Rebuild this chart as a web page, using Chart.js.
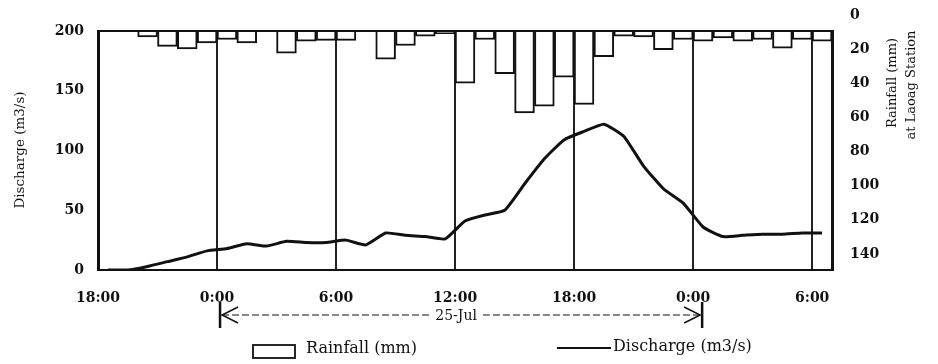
<!DOCTYPE html>
<html>
<head>
<meta charset="utf-8">
<script src="https://cdn.jsdelivr.net/npm/chart.js@4/dist/chart.umd.min.js"></script>
<style>
  body { margin: 0; background: #fff; }
  #wrap { width: 938px; height: 364px; }
</style>
</head>
<body>
<div id="wrap"><canvas id="rainChart" width="938" height="364"></canvas></div>
<script>
// hours counted from 18:00 on 24-Jul (bar centres)
const hours = [];
for (let i = 0; i < 37; i++) hours.push(i + 0.5);

const rainfallMm = [0, 0, 3.5, 9, 10.5, 7, 5, 7, 0, 13, 6, 5.5, 5.5, 0, 16.5, 8.5, 3, 1.5,
  30.5, 5, 25, 48, 44, 27, 43, 15, 3, 3.5, 11, 5, 6, 4, 6, 5, 10, 5, 6];

const dischargeM3s = [0, 0, 3, 7, 11, 16, 18, 22, 20, 24, 23, 23, 25, 21, 31, 29, 28, 26,
  41, 46, 50, 72, 93, 109, 116, 122, 112, 87, 68, 56, 36, 28, 29, 30, 30, 31, 31];

const tickHours = [0, 6, 12, 18, 24, 30, 36];
const tickLabels = ['18:00', '0:00', '6:00', '12:00', '18:00', '0:00', '6:00'];

const serif = '"DejaVu Serif", "Liberation Serif", serif';
const ink = '#111';

// titles, date span and legend drawn on top
const extras = {
  id: 'extras',
  afterDraw(chart) {
    const { ctx, chartArea: a, scales } = chart;
    ctx.save();
    ctx.strokeStyle = ink;
    ctx.fillStyle = ink;

    // top frame line
    ctx.lineWidth = 2;
    ctx.beginPath();
    ctx.moveTo(a.left, a.top);
    ctx.lineTo(a.right, a.top);
    ctx.stroke();

    // axis titles
    ctx.textAlign = 'center';
    ctx.textBaseline = 'middle';
    ctx.font = '13.5px ' + serif;
    const rot = (text, x, y) => {
      ctx.save();
      ctx.translate(x, y);
      ctx.rotate(-Math.PI / 2);
      ctx.fillText(text, 0, 0);
      ctx.restore();
    };
    rot('Discharge (m3/s)', 20, 150);
    ctx.font = '13px ' + serif;
    rot('Rainfall (mm)', 893, 83);
    rot('at Laoag Station', 912, 85);

    // 25-Jul span
    const x0 = scales.x.getPixelForValue(6) + 3;
    const x1 = scales.x.getPixelForValue(30) + 9;
    const ym = 315;
    ctx.lineWidth = 2.5;
    ctx.beginPath();
    ctx.moveTo(x0, ym - 13); ctx.lineTo(x0, ym + 13);
    ctx.moveTo(x1, ym - 13); ctx.lineTo(x1, ym + 13);
    ctx.stroke();
    ctx.lineWidth = 1.5;
    ctx.beginPath();
    ctx.moveTo(x0 + 18, ym - 8); ctx.lineTo(x0 + 2, ym); ctx.lineTo(x0 + 18, ym + 8);
    ctx.moveTo(x1 - 18, ym - 8); ctx.lineTo(x1 - 2, ym); ctx.lineTo(x1 - 18, ym + 8);
    ctx.stroke();
    ctx.font = '14px ' + serif;
    const label = '25-Jul';
    const mid = (x0 + x1) / 2 - 5;
    const half = ctx.measureText(label).width / 2;
    ctx.fillText(label, mid, ym + 1);
    ctx.lineWidth = 1;
    ctx.setLineDash([7, 3]);
    ctx.beginPath();
    ctx.moveTo(x0 + 2, ym); ctx.lineTo(mid - half - 6, ym);
    ctx.moveTo(mid + half + 6, ym); ctx.lineTo(x1 - 2, ym);
    ctx.stroke();
    ctx.setLineDash([]);

    // legend
    ctx.font = '16px ' + serif;
    ctx.textAlign = 'left';
    ctx.lineWidth = 1.8;
    ctx.strokeRect(253, 345, 42, 13);
    ctx.fillText('Rainfall (mm)', 306, 349);
    ctx.lineWidth = 2;
    ctx.beginPath();
    ctx.moveTo(557, 348); ctx.lineTo(611, 348);
    ctx.stroke();
    ctx.fillText('Discharge (m3/s)', 613, 347);
    ctx.restore();
  }
};

const tickFont = { family: serif, size: 14, weight: 'bold' };

new Chart(document.getElementById('rainChart').getContext('2d'), {
  type: 'bar',
  data: {
    datasets: [
      {
        type: 'line',
        label: 'Discharge (m3/s)',
        data: hours.map((h, i) => ({ x: h, y: dischargeM3s[i] })),
        yAxisID: 'y',
        borderColor: ink,
        borderWidth: 3,
        pointRadius: 0,
        tension: 0.15,
        order: 0
      },
      {
        type: 'bar',
        label: 'Rainfall (mm)',
        data: hours.map((h, i) => ({ x: h, y: rainfallMm[i] })),
        yAxisID: 'y2',
        backgroundColor: '#fff',
        borderColor: ink,
        borderWidth: 2,
        categoryPercentage: 1,
        barPercentage: 1,
        order: 1
      }
    ]
  },
  options: {
    responsive: false,
    animation: false,
    layout: { padding: { top: 31, left: 0, right: 0, bottom: 0 } },
    plugins: {
      legend: { display: false },
      tooltip: { enabled: false }
    },
    scales: {
      x: {
        type: 'linear',
        min: 0,
        max: 37,
        offset: false,
        afterBuildTicks: scale => { scale.ticks = tickHours.map(v => ({ value: v })); },
        afterFit: scale => { scale.height = 94; },
        ticks: {
          callback: (v, i) => tickLabels[i],
          font: tickFont,
          color: ink,
          padding: 20,
          maxRotation: 0,
          autoSkip: false
        },
        grid: {
          offset: false,
          drawTicks: false,
          color: c => (c.tick && c.tick.value === 0 ? 'rgba(0,0,0,0)' : '#222'),
          lineWidth: 2
        },
        border: { display: true, color: ink, width: 2 }
      },
      y: {
        position: 'left',
        min: 0,
        max: 200,
        afterFit: scale => { scale.width = 98; },
        ticks: {
          stepSize: 50,
          font: tickFont,
          color: ink,
          padding: 14
        },
        grid: { display: false, drawTicks: false },
        border: { display: true, color: ink, width: 3 }
      },
      y2: {
        position: 'right',
        min: 0,
        max: 140,
        reverse: true,
        afterFit: scale => { scale.width = 106; },
        ticks: {
          stepSize: 20,
          font: tickFont,
          color: ink,
          padding: 18,
          labelOffset: -16
        },
        grid: { display: false, drawTicks: false },
        border: { display: true, color: ink, width: 3 }
      }
    }
  },
  plugins: [extras]
});
</script>
</body>
</html>
